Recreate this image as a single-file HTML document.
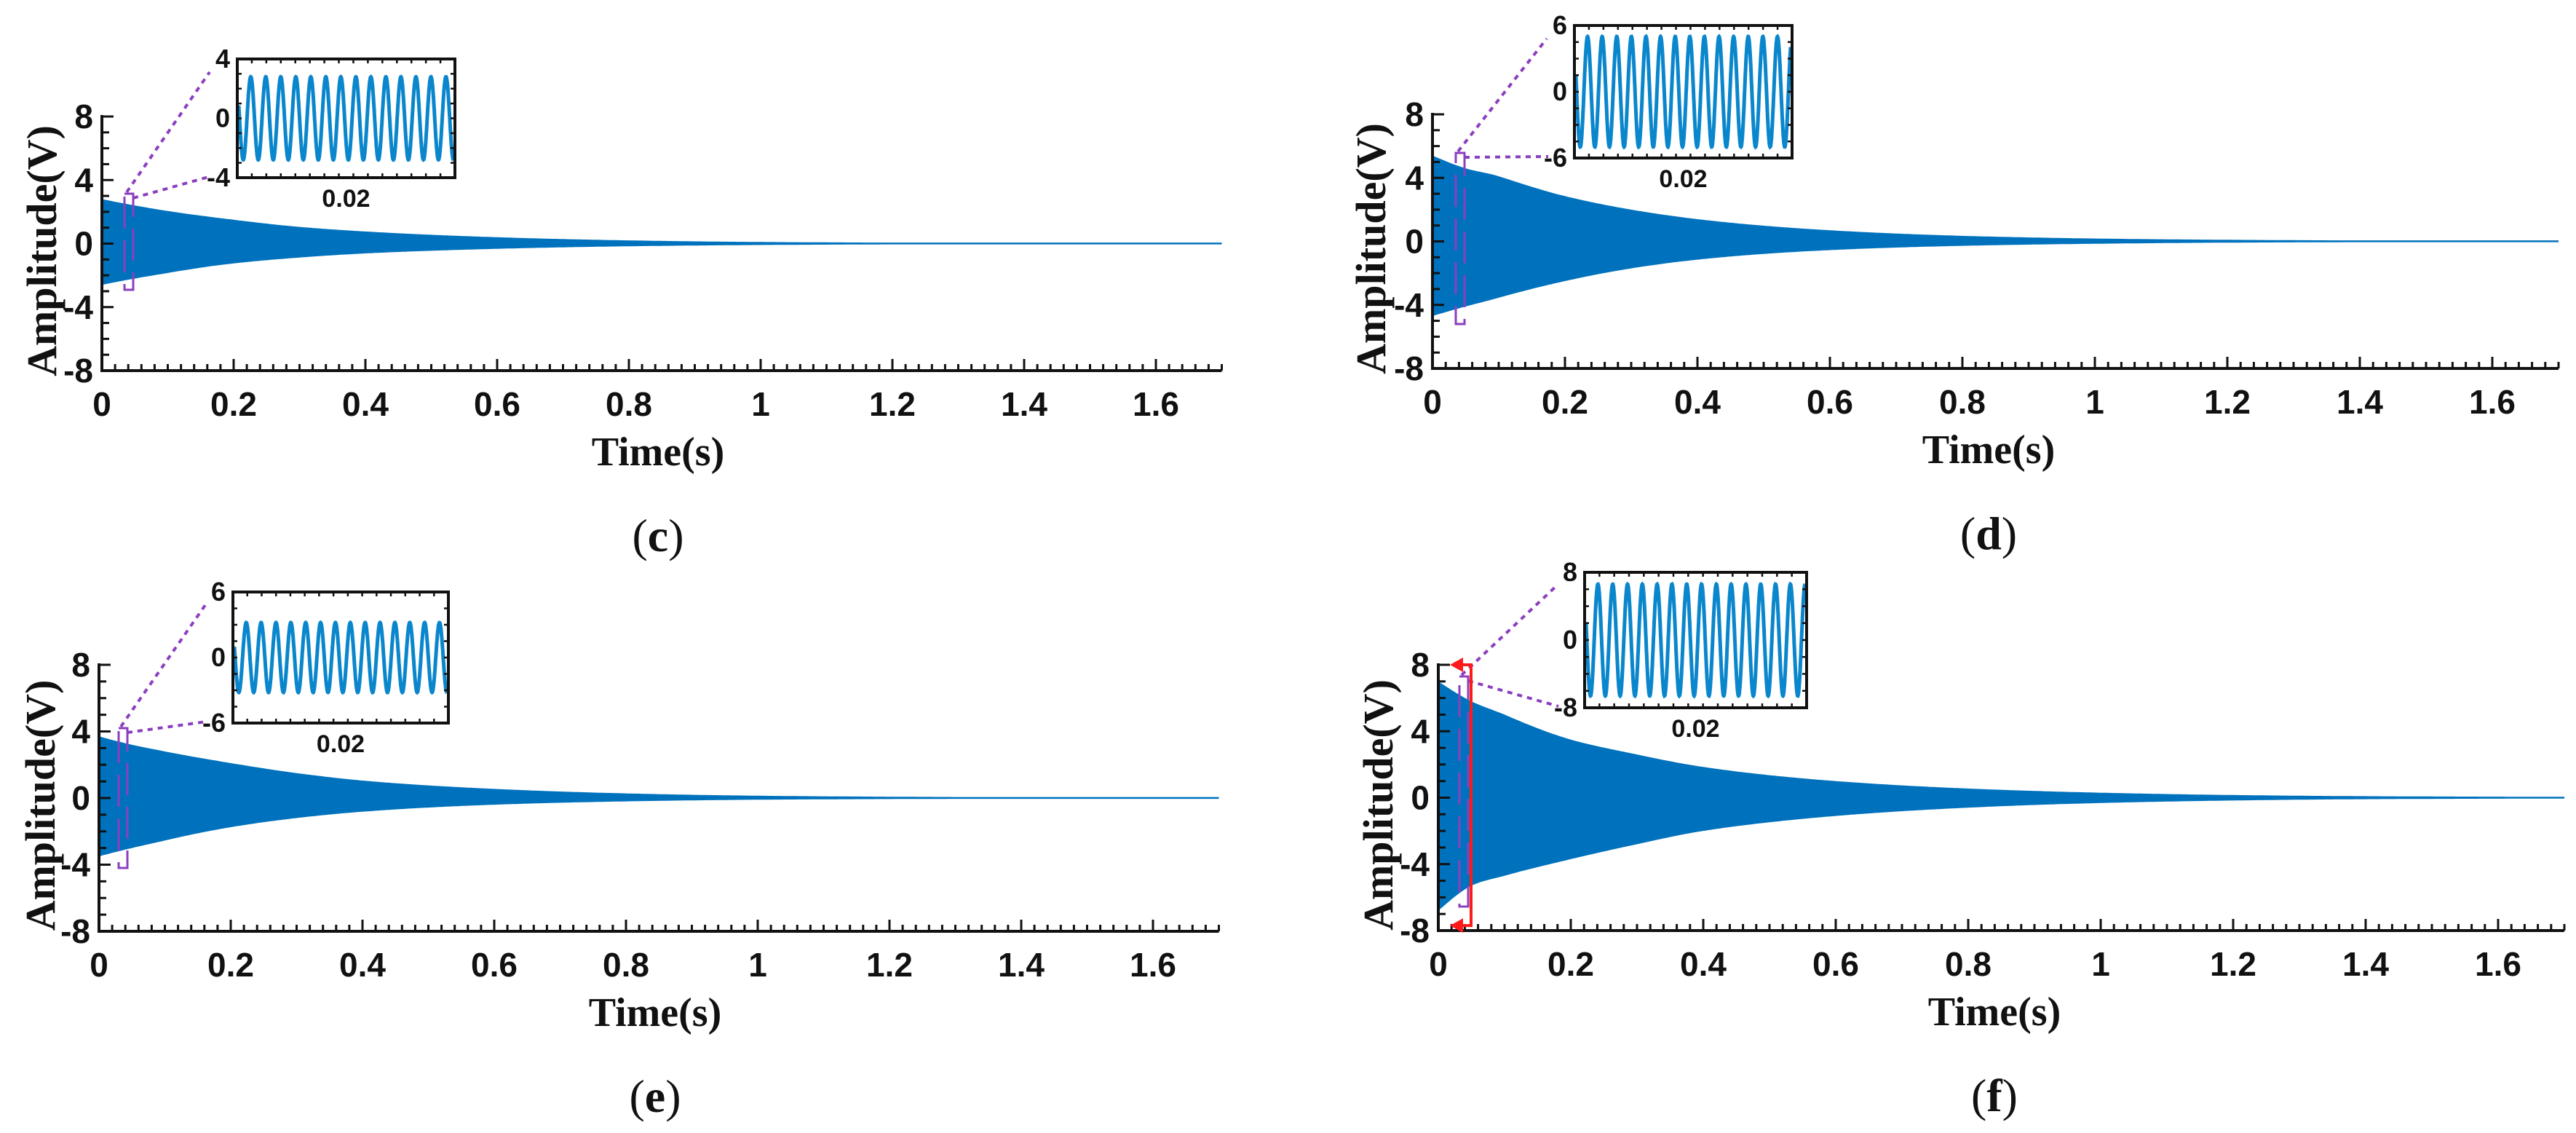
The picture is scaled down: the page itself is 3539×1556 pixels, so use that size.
<!DOCTYPE html>
<html><head><meta charset="utf-8"><style>
html,body{margin:0;padding:0;background:#fff;}
svg{display:block;}
.tick{font-family:"Liberation Sans Narrow","Liberation Sans",sans-serif;font-weight:bold;fill:#111;}
.ttl{font-family:"Liberation Serif",serif;font-weight:bold;fill:#111;}
</style></head><body>
<svg id="fig" width="3539" height="1556" viewBox="0 0 3539 1556" xmlns="http://www.w3.org/2000/svg"></svg>
<script>
// ---- data ----
const envTimes = [0, 0.05, 0.1, 0.2, 0.3, 0.4, 0.6, 0.8, 1.0, 1.2, 1.4, 1.7];
const upperC = [2.8, 2.4, 2.05, 1.5, 1.05, 0.76, 0.4, 0.2, 0.1, 0.06, 0.04, 0.03];
const lowerC = [-2.6, -2.2, -1.85, -1.25, -0.88, -0.62, -0.33, -0.17, -0.09, -0.05, -0.03, -0.02];
const upperD = [5.4, 4.6, 4.1, 2.85, 2.0, 1.4, 0.7, 0.35, 0.18, 0.1, 0.06, 0.04];
const lowerD = [-4.7, -4.1, -3.55, -2.5, -1.7, -1.15, -0.55, -0.28, -0.15, -0.08, -0.05, -0.03];
const upperE = [3.7, 3.2, 2.8, 2.1, 1.5, 1.05, 0.55, 0.28, 0.14, 0.08, 0.05, 0.03];
const lowerE = [-3.5, -3.0, -2.55, -1.75, -1.2, -0.82, -0.4, -0.2, -0.1, -0.06, -0.04, -0.02];
const upperF = [7.0, 5.8, 5.0, 3.5, 2.6, 1.85, 1.0, 0.55, 0.3, 0.16, 0.09, 0.05];
const lowerF = [-6.8, -5.3, -4.7, -3.7, -2.8, -2.0, -1.1, -0.6, -0.32, -0.17, -0.09, -0.05];
const xTickLabels = ["0", "0.2", "0.4", "0.6", "0.8", "1", "1.2", "1.4", "1.6"];
const yTickLabels = ["-8", "-4", "0", "4", "8"];
const insetAmps = [2.8, 5.0, 3.2, 6.6];
const insetLimits = [4, 6, 6, 8];
const insetCycles = [14.3, 14.7, 14.3, 14.8];
const panelLetters = ["c", "d", "e", "f"];

// ---- layout (pixels) ----
const panels = [
 {x0:140, sx:905, yTop:160, yBot:509, lab:57, inset:[326,81,625,244], zoomX:171, zoomW:12, zoomT:266, zoomB:398},
 {x0:1968, sx:910, yTop:157, yBot:506, lab:1883, inset:[2163,35,2462,217], zoomX:2000, zoomW:12, zoomT:210, zoomB:445},
 {x0:136, sx:905, yTop:913, yBot:1279, lab:55, inset:[320,813,616,993], zoomX:163, zoomW:12, zoomT:1000, zoomB:1192},
 {x0:1976, sx:910, yTop:913, yBot:1278, lab:1893, inset:[2177,786,2482,972], zoomX:2005, zoomW:12, zoomT:929, zoomB:1245}
];
const uppers = [upperC, upperD, upperE, upperF];
const lowers = [lowerC, lowerD, lowerE, lowerF];

const NS = "http://www.w3.org/2000/svg";
const svg = document.getElementById("fig");
function mk(tag, attrs, parent){
  const e = document.createElementNS(NS, tag);
  for (const k in attrs) e.setAttribute(k, attrs[k]);
  (parent || svg).appendChild(e);
  return e;
}
// smooth cubic Hermite interpolation in log-magnitude space
function interp(arr, t){
  const n = envTimes.length;
  const L = arr.map(v => Math.log(Math.abs(v)));
  const s = Math.sign(arr[0]) || 1;
  const slope = i => {
    if (i === 0) return (L[1] - L[0]) / (envTimes[1] - envTimes[0]);
    if (i === n - 1) return (L[n-1] - L[n-2]) / (envTimes[n-1] - envTimes[n-2]);
    return (L[i+1] - L[i-1]) / (envTimes[i+1] - envTimes[i-1]);
  };
  for (let i = 0; i < n - 1; i++){
    if (t <= envTimes[i+1]){
      const h = envTimes[i+1] - envTimes[i];
      const u = (t - envTimes[i]) / h;
      const h00 = 2*u*u*u - 3*u*u + 1, h10 = u*u*u - 2*u*u + u, h01 = -2*u*u*u + 3*u*u, h11 = u*u*u - u*u;
      const v = h00 * L[i] + h10 * h * slope(i) + h01 * L[i+1] + h11 * h * slope(i+1);
      return s * Math.exp(v);
    }
  }
  return arr[n-1];
}

panels.forEach((p, pi) => {
  const g = mk("g", {});
  
  
  const xS = t => p.x0 + t * p.sx;
  const yS = v => p.yTop + (8 - v) * (p.yBot - p.yTop) / 16;

  let up = [], lo = [];
  for (let t = 0; t <= 1.7001; t += 0.004){
    let u = yS(interp(uppers[pi], t)), l = yS(interp(lowers[pi], t));
    if (l - u < 2.5){ const m = (u + l) / 2; u = m - 1.25; l = m + 1.25; }
    up.push(xS(t).toFixed(1) + "," + u.toFixed(1));
    lo.unshift(xS(t).toFixed(1) + "," + l.toFixed(1));
  }
  const env = mk("polygon", {points: up.concat(lo).join(" "), fill: "#0072BD"}, g);
  
  

  const ax = mk("g", {stroke: "#111", "stroke-width": 4, fill: "none"}, g);
  
  
  mk("line", {x1: p.x0, y1: p.yTop - 2, x2: p.x0, y2: p.yBot + 2}, ax);
  mk("line", {x1: p.x0 - 2, y1: p.yBot, x2: xS(1.7), y2: p.yBot}, ax);
  for (let i = 0; i <= 85; i++){
    const t = i * 0.02, Lt = (i % 10 === 0) ? 16 : 9;
    mk("line", {x1: xS(t), y1: p.yBot, x2: xS(t), y2: p.yBot - Lt, "stroke-width": 3}, ax);
  }
  for (let v = -8; v <= 8; v++){
    const Lt = (v % 4 === 0) ? 16 : 10;
    mk("line", {x1: p.x0, y1: yS(v), x2: p.x0 + Lt, y2: yS(v), "stroke-width": 3}, ax);
  }
  xTickLabels.forEach((s, i) => {
    const tx = mk("text", {x: xS(i * 0.2), y: p.yBot + 62, "text-anchor": "middle", "font-size": 46, class: "tick"}, g);
    tx.textContent = s;
    
    
  });
  yTickLabels.forEach((s, i) => {
    const v = -8 + i * 4;
    const tx = mk("text", {x: p.x0 - 12, y: yS(v) + 16, "text-anchor": "end", "font-size": 46, class: "tick"}, g);
    tx.textContent = s;
    
    
  });
  const yl = mk("text", {x: 0, y: 0, "text-anchor": "middle", "font-size": 58, class: "ttl",
    transform: "translate(" + (p.lab + 20) + "," + ((p.yTop + p.yBot) / 2 + 10) + ") rotate(-90)"}, g);
  yl.textContent = "Amplitude(V)";
  
  
  const xl = mk("text", {x: p.x0 + 764, y: p.yBot + 130, "text-anchor": "middle", "font-size": 56, class: "ttl"}, g);
  xl.textContent = "Time(s)";
  
  
  const pl = mk("text", {x: p.x0 + 764, y: p.yBot + 248, "text-anchor": "middle", "font-size": 64, "font-family": "Liberation Serif, serif", fill: "#111"}, g);
  pl.innerHTML = '(<tspan font-weight="bold">' + panelLetters[pi] + '</tspan>)';
  
  

  const zr = mk("rect", {x: p.zoomX, y: p.zoomT, width: p.zoomW, height: p.zoomB - p.zoomT, fill: "none",
    stroke: "#8B3FBF", "stroke-width": 3, "stroke-dasharray": "44 16"}, g);
  
  

  const [ix1, iy1, ix2, iy2] = p.inset;
  const lim = insetLimits[pi];
  const iyS = v => iy1 + (lim - v) * (iy2 - iy1) / (2 * lim);
  const ig = mk("g", {}, g);
  
  
  const c1 = mk("line", {x1: p.zoomX + 3, y1: p.zoomT - 2, x2: ix1 - 38, y2: iy1 + 18, stroke: "#8B3FBF", "stroke-width": 4, "stroke-dasharray": "7 7"}, ig);
  
  
  const c2 = mk("line", {x1: p.zoomX + p.zoomW, y1: p.zoomT + 6, x2: ix1 - 36, y2: iy2 - 2, stroke: "#8B3FBF", "stroke-width": 4, "stroke-dasharray": "7 7"}, ig);
  
  
  let pts = [];
  const N = 900, amp = insetAmps[pi], cyc = insetCycles[pi];
  for (let i = 0; i <= N; i++){
    const f = i / N;
    const v = amp * Math.sin(2 * Math.PI * cyc * f + Math.PI * 0.9);
    pts.push((ix1 + 2 + f * (ix2 - ix1 - 4)).toFixed(1) + "," + iyS(v).toFixed(1));
  }
  const sl = mk("polyline", {points: pts.join(" "), fill: "none", stroke: "#0A86CC", "stroke-width": 5}, ig);
  
  
  const box = mk("rect", {x: ix1, y: iy1, width: ix2 - ix1, height: iy2 - iy1, fill: "none", stroke: "#111", "stroke-width": 4}, ig);
  
  
  for (let k = 1; k < 15; k++){
    const xx = ix1 + k * (ix2 - ix1) / 15;
    mk("line", {x1: xx, y1: iy2, x2: xx, y2: iy2 - 6, stroke: "#111", "stroke-width": 2.5}, ig);
    mk("line", {x1: xx, y1: iy1, x2: xx, y2: iy1 + 6, stroke: "#111", "stroke-width": 2.5}, ig);
  }
  for (let k = 1; k < 8; k++){
    const yy = iy1 + k * (iy2 - iy1) / 8;
    mk("line", {x1: ix1, y1: yy, x2: ix1 + 6, y2: yy, stroke: "#111", "stroke-width": 2.5}, ig);
    mk("line", {x1: ix2, y1: yy, x2: ix2 - 6, y2: yy, stroke: "#111", "stroke-width": 2.5}, ig);
  }
  [[lim, iy1], [0, (iy1 + iy2) / 2], [-lim, iy2]].forEach(([v, yy]) => {
    const t = mk("text", {x: ix1 - 10, y: yy + 12, "text-anchor": "end", "font-size": 36, class: "tick"}, ig);
    t.textContent = String(v);
    
    
  });
  const it = mk("text", {x: (ix1 + ix2) / 2, y: iy2 + 40, "text-anchor": "middle", "font-size": 34, class: "tick"}, ig);
  it.textContent = "0.02";
  
  

  if (pi === 3){
    const rg = mk("g", {stroke: "#FF1A1A", "stroke-width": 4, fill: "none"}, g);
    
    
    const rx = p.zoomX + p.zoomW + 4;
    const yA = yS(8), yB = yS(-7.7);
    mk("polyline", {points: (p.x0 + 22) + "," + yA + " " + rx + "," + yA + " " + rx + "," + yB + " " + (p.x0 + 22) + "," + yB}, rg);
    mk("polygon", {points: (p.x0 + 16) + "," + yA + " " + (p.x0 + 34) + "," + (yA - 10) + " " + (p.x0 + 34) + "," + (yA + 10), fill: "#FF1A1A", stroke: "none"}, rg);
    mk("polygon", {points: (p.x0 + 16) + "," + yB + " " + (p.x0 + 34) + "," + (yB - 10) + " " + (p.x0 + 34) + "," + (yB + 10), fill: "#FF1A1A", stroke: "none"}, rg);
  }
});
</script>
</body></html>
